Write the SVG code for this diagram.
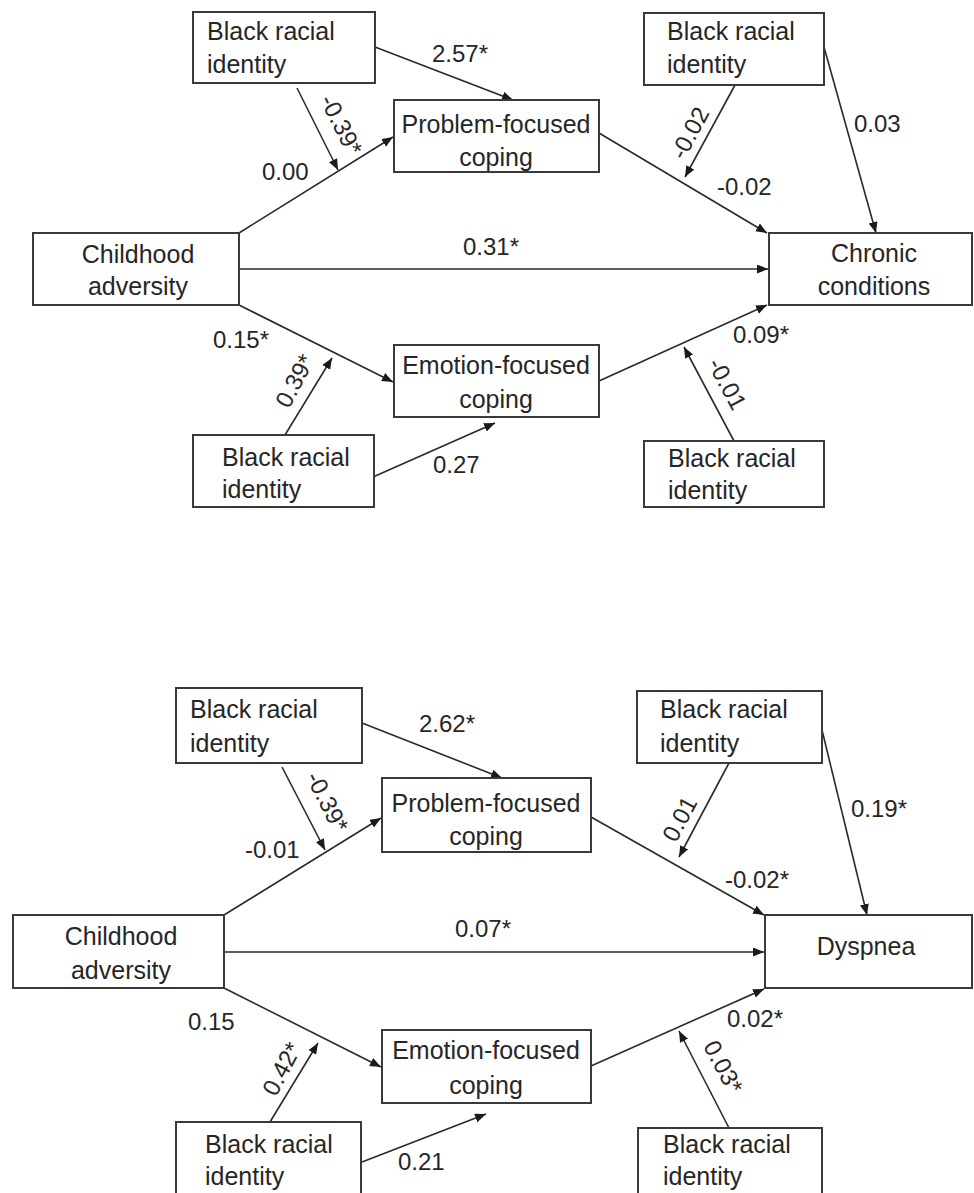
<svg xmlns="http://www.w3.org/2000/svg" width="974" height="1193" viewBox="0 0 974 1193">
<defs>
<style>
.box{fill:#fff;stroke:#3a3a3a;stroke-width:2}
.t{font-family:"Liberation Sans",Arial,sans-serif;font-size:24px;fill:#262626}
.n{font-size:25px}
.c{text-anchor:middle}
.ln{stroke:#2a2a2a;stroke-width:1.6;fill:none}
.ar{marker-end:url(#ah)}
</style>
<marker id="ah" markerUnits="userSpaceOnUse" markerWidth="12" markerHeight="10" refX="11" refY="4.5" orient="auto">
<path d="M0,0 L11,4.5 L0,9 z" fill="#1a1a1a"/>
</marker>
</defs>
<rect width="974" height="1193" fill="#fff"/>

<g id="connectors">
<!-- top diagram -->
<line class="ln ar" x1="239" y1="233" x2="393" y2="137"/>
<line class="ln ar" x1="239" y1="269" x2="768" y2="269"/>
<line class="ln ar" x1="239" y1="305" x2="393" y2="382"/>
<line class="ln ar" x1="375" y1="47" x2="513" y2="100"/>
<line class="ln ar" x1="297" y1="88" x2="338" y2="170"/>
<line class="ln ar" x1="599" y1="133" x2="767" y2="233"/>
<line class="ln ar" x1="735" y1="85" x2="685" y2="177"/>
<line class="ln ar" x1="824" y1="47" x2="876" y2="233"/>
<line class="ln ar" x1="599" y1="381" x2="767" y2="305"/>
<line class="ln ar" x1="734" y1="441" x2="684" y2="347"/>
<line class="ln ar" x1="285" y1="435" x2="332" y2="358"/>
<line class="ln ar" x1="373" y1="477" x2="495" y2="423"/>
<!-- bottom diagram -->
<line class="ln ar" x1="224" y1="915" x2="381" y2="818"/>
<line class="ln ar" x1="224" y1="952" x2="764" y2="952"/>
<line class="ln ar" x1="224" y1="988" x2="381" y2="1067"/>
<line class="ln ar" x1="362" y1="723" x2="502" y2="778"/>
<line class="ln ar" x1="282" y1="767" x2="325" y2="850"/>
<line class="ln ar" x1="591" y1="817" x2="764" y2="915"/>
<line class="ln ar" x1="729" y1="763" x2="679" y2="857"/>
<line class="ln ar" x1="822" y1="730" x2="867" y2="915"/>
<line class="ln ar" x1="591" y1="1066" x2="764" y2="989"/>
<line class="ln ar" x1="729" y1="1128" x2="679" y2="1031"/>
<line class="ln ar" x1="270" y1="1122" x2="318" y2="1043"/>
<line class="ln ar" x1="362" y1="1162" x2="486" y2="1114"/>

<!-- labels top -->
<text class="t" x="432" y="62">2.57*</text>
<text class="t" x="262" y="180">0.00</text>
<text class="t" x="463" y="255">0.31*</text>
<text class="t" x="213" y="348">0.15*</text>
<text class="t" x="433" y="473">0.27</text>
<text class="t" x="733" y="343">0.09*</text>
<text class="t" x="717" y="195">-0.02</text>
<text class="t" x="854" y="132">0.03</text>
<text class="t c" x="341" y="133" transform="rotate(63 341 125)">-0.39*</text>
<text class="t c" x="295" y="389" transform="rotate(-62 295 381)">0.39*</text>
<text class="t c" x="727" y="392" transform="rotate(62 727 384)">-0.01</text>
<text class="t c" x="690" y="141" transform="rotate(-62 690 133)">-0.02</text>
<!-- labels bottom -->
<text class="t" x="419" y="732">2.62*</text>
<text class="t" x="245" y="858">-0.01</text>
<text class="t" x="455" y="937">0.07*</text>
<text class="t" x="188" y="1030">0.15</text>
<text class="t" x="398" y="1170">0.21</text>
<text class="t" x="727" y="1027">0.02*</text>
<text class="t" x="725" y="888">-0.02*</text>
<text class="t" x="851" y="817">0.19*</text>
<text class="t c" x="327" y="810" transform="rotate(63 327 802)">-0.39*</text>
<text class="t c" x="282" y="1077" transform="rotate(-62 282 1069)">0.42*</text>
<text class="t c" x="680" y="827" transform="rotate(-62 680 819)">0.01</text>
<text class="t c" x="723" y="1075" transform="rotate(62 723 1067)">0.03*</text>
</g>

<!-- top diagram nodes -->
<g id="bri-top-left"><rect class="box" x="193" y="12" width="182" height="71"/><text class="t n" x="207" y="40">Black racial</text><text class="t n" x="207" y="73">identity</text></g>
<g id="problem-top"><rect class="box" x="394" y="100" width="205" height="72"/><text class="t n c" x="496" y="133">Problem-focused</text><text class="t n c" x="496" y="166">coping</text></g>
<g id="childhood-top"><rect class="box" x="33" y="233" width="206" height="72"/><text class="t n c" x="138" y="263">Childhood</text><text class="t n c" x="138" y="295">adversity</text></g>
<g id="emotion-top"><rect class="box" x="394" y="345" width="205" height="72"/><text class="t n c" x="496" y="374">Emotion-focused</text><text class="t n c" x="496" y="408">coping</text></g>
<g id="bri-bottom-left"><rect class="box" x="193" y="435" width="181" height="72"/><text class="t n" x="222" y="466">Black racial</text><text class="t n" x="222" y="498">identity</text></g>
<g id="chronic"><rect class="box" x="769" y="233" width="203" height="72"/><text class="t n c" x="874" y="262">Chronic</text><text class="t n c" x="874" y="295">conditions</text></g>
<g id="bri-top-right"><rect class="box" x="644" y="13" width="180" height="72"/><text class="t n" x="667" y="40">Black racial</text><text class="t n" x="667" y="73">identity</text></g>
<g id="bri-bottom-right"><rect class="box" x="644" y="441" width="180" height="66"/><text class="t n" x="668" y="467">Black racial</text><text class="t n" x="668" y="499">identity</text></g>

<!-- bottom diagram nodes -->
<g id="bri2-top-left"><rect class="box" x="176" y="688" width="186" height="75"/><text class="t n" x="190" y="718">Black racial</text><text class="t n" x="190" y="752">identity</text></g>
<g id="problem-bottom"><rect class="box" x="382" y="778" width="209" height="74"/><text class="t n c" x="486" y="812">Problem-focused</text><text class="t n c" x="486" y="845">coping</text></g>
<g id="childhood-bottom"><rect class="box" x="13" y="915" width="211" height="73"/><text class="t n c" x="121" y="945">Childhood</text><text class="t n c" x="121" y="979">adversity</text></g>
<g id="emotion-bottom"><rect class="box" x="382" y="1030" width="209" height="73"/><text class="t n c" x="486" y="1059">Emotion-focused</text><text class="t n c" x="486" y="1094">coping</text></g>
<g id="bri2-bottom-left"><rect class="box" x="176" y="1122" width="185" height="80"/><text class="t n" x="205" y="1153">Black racial</text><text class="t n" x="205" y="1185">identity</text></g>
<g id="dyspnea"><rect class="box" x="765" y="915" width="207" height="73"/><text class="t n c" x="866" y="955">Dyspnea</text></g>
<g id="bri2-top-right"><rect class="box" x="637" y="691" width="185" height="72"/><text class="t n" x="660" y="718">Black racial</text><text class="t n" x="660" y="752">identity</text></g>
<g id="bri2-bottom-right"><rect class="box" x="638" y="1128" width="184" height="80"/><text class="t n" x="663" y="1153">Black racial</text><text class="t n" x="663" y="1185">identity</text></g>
</svg>
